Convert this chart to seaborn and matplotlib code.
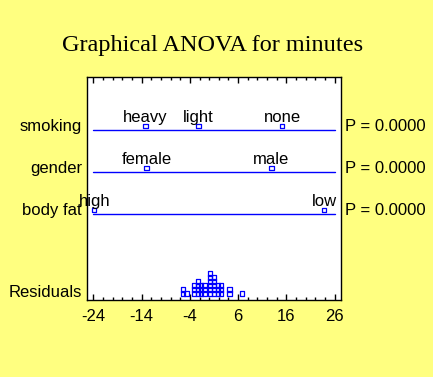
import matplotlib
matplotlib.use("Agg")
import matplotlib.pyplot as plt
import matplotlib.transforms as mtransforms
from matplotlib.ticker import MultipleLocator
import numpy as np
import pandas as pd
import seaborn as sns

# ---- data ----
title = "Graphical ANOVA for minutes"
factors = ["smoking", "gender", "body fat"]
p_values = ["P = 0.0000", "P = 0.0000", "P = 0.0000"]
smoking_levels = ["heavy", "light", "none"]
smoking_means = [-13.2, -2.25, 15.1]
gender_levels = ["female", "male"]
gender_means = [-13.0, 12.9]
bodyfat_levels = ["high", "low"]
bodyfat_means = [-23.8, 23.8]
residuals = ([-5.4] * 2 + [-4.7] * 1 + [-3.1] * 3 + [-2.3] * 4 + [-1.75] * 3
             + [-1.0] * 3 + [0.23] * 6 + [1.06] * 5 + [1.77] * 3 + [2.45] * 3
             + [4.17] * 2 + [6.86] * 1)
x_ticks = [-24, -14, -4, 6, 16, 26]

# ---- style ----
sns.set_style("white")
plt.rcParams["font.family"] = ["Liberation Sans", "DejaVu Sans"]
plt.rcParams["text.color"] = "black"
BG = "#FFFF80"
BLUE = "#0000FF"
FS = 12

fig = plt.figure(figsize=(4.33, 3.77), dpi=100, facecolor=BG)
ax = fig.add_axes([0.2002, 0.2042, 0.5873, 0.5907])
ax.set_facecolor("white")

row_pos = {"smoking": 2.0, "gender": 1.0, "body fat": 0.0}
mark_off = 0.095
resid_base = -1.893
resid_step = 0.0952

level_data = {
    "smoking": (smoking_levels, smoking_means),
    "gender": (gender_levels, gender_means),
    "body fat": (bodyfat_levels, bodyfat_means),
}

rows = []
for f in factors:
    levs, means = level_data[f]
    for l, m in zip(levs, means):
        rows.append({"factor": f, "level": l, "mean": m,
                     "y": row_pos[f] + mark_off})
df = pd.DataFrame(rows)

# factor lines across the tick range
for f in factors:
    ax.plot([x_ticks[0], x_ticks[-1]], [row_pos[f], row_pos[f]],
            color=BLUE, lw=1.0, zorder=2)

sns.scatterplot(data=df, x="mean", y="y", marker="s", s=10,
                facecolor="none", edgecolor=BLUE, linewidth=0.9,
                ax=ax, zorder=3, legend=False)

for _, r in df.iterrows():
    ax.annotate(r["level"], (r["mean"], r["y"]), xytext=(0, 3.3),
                textcoords="offset points", ha="center", va="baseline",
                fontsize=FS, color="black", zorder=4, annotation_clip=False)

# residual dot plot
rdf = pd.DataFrame({"resid": residuals})
rdf["level"] = rdf.groupby("resid").cumcount()
rdf["y"] = resid_base + rdf["level"] * resid_step
sns.scatterplot(data=rdf, x="resid", y="y", marker="s", s=10,
                facecolor="none", edgecolor=BLUE, linewidth=0.9,
                ax=ax, zorder=3, legend=False)

ax.set_xlim(-25.37, 27.3)
ax.set_ylim(-2.048, 3.262)
ax.set_xticks(x_ticks)
ax.set_xticklabels([str(t) for t in x_ticks])
ax.xaxis.set_minor_locator(MultipleLocator(2))
ax.set_yticks([])
ax.tick_params(axis="x", which="major", direction="in", length=4.0,
               width=1.0, top=True, bottom=True, labelsize=FS, pad=6.5,
               colors="black", labelcolor="black")
ax.tick_params(axis="x", which="minor", direction="in", length=2.3,
               width=1.0, top=True, bottom=True, colors="black")
ax.set_xlabel("")
ax.set_ylabel("")
for sp in ax.spines.values():
    sp.set_visible(True)
    sp.set_color("black")
    sp.set_linewidth(1.0)

trans = mtransforms.blended_transform_factory(ax.transAxes, ax.transData)
for f, p in zip(factors, p_values):
    y = row_pos[f] + mark_off
    ax.text(-0.0185, y, f, transform=trans, ha="right", va="center",
            fontsize=FS, color="black")
    ax.text(1.0157, y, p, transform=trans, ha="left", va="center",
            fontsize=FS, color="black")
ax.text(-0.0185, resid_base + 0.03, "Residuals", transform=trans,
        ha="right", va="center", fontsize=FS, color="black")

fig.text(0.4908, 0.88, title, ha="center", va="center", color="black",
         fontsize=17.5, family=["Liberation Serif", "DejaVu Serif"])

fig.savefig("out.png", dpi=100, facecolor=BG)
